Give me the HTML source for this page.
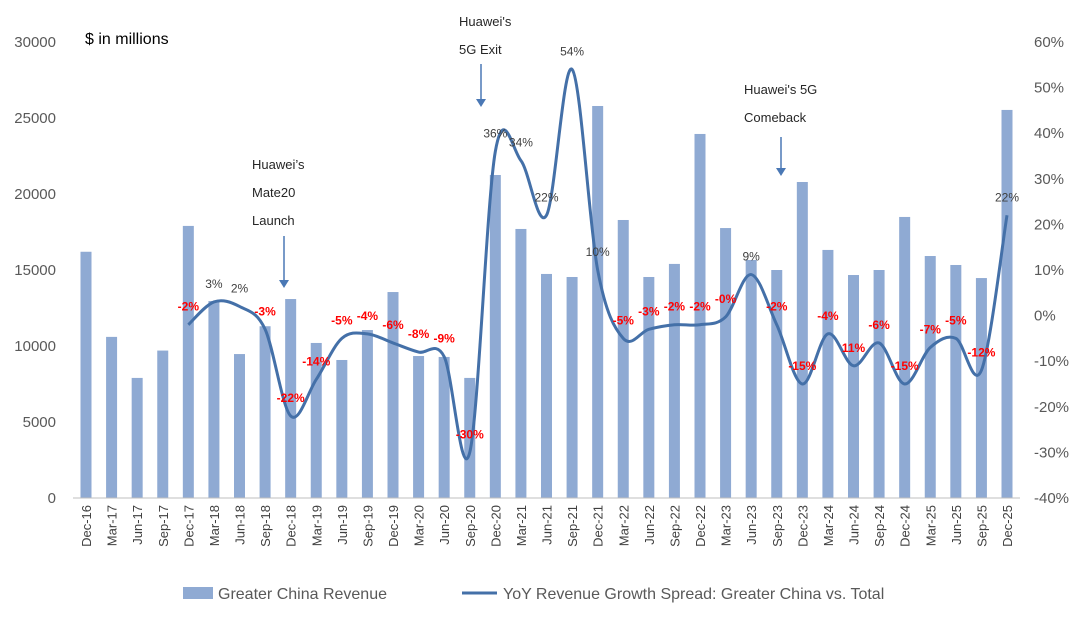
<!DOCTYPE html>
<html><head><meta charset="utf-8"><style>
body{margin:0;background:#fff;}
svg text{font-family:"Liberation Sans",sans-serif;}
</style></head><body>
<svg id="chart" width="1080" height="613" viewBox="0 0 1080 613"></svg>
<script>
const categories=["Dec-16","Mar-17","Jun-17","Sep-17","Dec-17","Mar-18","Jun-18","Sep-18","Dec-18","Mar-19","Jun-19","Sep-19","Dec-19","Mar-20","Jun-20","Sep-20","Dec-20","Mar-21","Jun-21","Sep-21","Dec-21","Mar-22","Jun-22","Sep-22","Dec-22","Mar-23","Jun-23","Sep-23","Dec-23","Mar-24","Jun-24","Sep-24","Dec-24","Mar-25","Jun-25","Sep-25","Dec-25"];
const revenue=[16200,10600,7900,9700,17900,12960,9470,11300,13090,10200,9080,11050,13550,9340,9280,7900,21250,17700,14740,14540,25790,18290,14540,15400,23950,17760,15660,15000,20790,16320,14670,15000,18490,15920,15330,14470,25530];
const spread=[-2,3,2,-3,-22,-14,-5,-4,-6,-8,-9,-30,36,34,22,54,10,-5,-3,-2,-2,-0.3,9,-2,-15,-4,-11,-6,-15,-7,-5,-12,22];
const spreadLabels=["-2%","3%","2%","-3%","-22%","-14%","-5%","-4%","-6%","-8%","-9%","-30%","36%","34%","22%","54%","10%","-5%","-3%","-2%","-2%","-0%","9%","-2%","-15%","-4%","11%","-6%","-15%","-7%","-5%","-12%","22%"];
const leftTicks=[0,5000,10000,15000,20000,25000,30000];
const rightTicks=[-40,-30,-20,-10,0,10,20,30,40,50,60];
const spreadStart=4;

const svg=document.getElementById('chart');
const NS='http://www.w3.org/2000/svg';
function mk(tag,attrs,parent){const e=document.createElementNS(NS,tag);for(const k in attrs)e.setAttribute(k,attrs[k]);(parent||svg).appendChild(e);return e;}
const x0=86,dx=(1007-86)/36,yTop=42,yBot=498;
const xs=i=>x0+i*dx;
const yL=v=>yBot-(v/30000)*(yBot-yTop);
const yR=v=>yBot-((v+40)/100)*(yBot-yTop);

leftTicks.forEach(t=>{const e=mk('text',{x:56,y:yL(t)+5,'text-anchor':'end','font-size':15,fill:'#595959'});e.textContent=t;

});
rightTicks.forEach(t=>{const e=mk('text',{x:1034,y:yR(t)+5,'font-size':15,fill:'#595959'});e.textContent=t+'%';

});

revenue.forEach((v,i)=>{const r=mk('rect',{x:xs(i)-5.5,y:yL(v),width:11,height:yBot-yL(v),fill:'#8faad3'});

});
const ax=mk('line',{x1:73,x2:1020,y1:yBot,y2:yBot,stroke:'#bfbfbf','stroke-width':1});


categories.forEach((c,i)=>{const t=mk('text',{transform:`translate(${xs(i)+5},505) rotate(-90)`,'text-anchor':'end','font-size':13,fill:'#404040'});t.textContent=c;

});

const pts=spread.map((v,j)=>[xs(j+spreadStart),yR(v)]);
let d='M'+pts[0][0]+','+pts[0][1];
for(let i=0;i<pts.length-1;i++){const p0=pts[Math.max(i-1,0)],p1=pts[i],p2=pts[i+1],p3=pts[Math.min(i+2,pts.length-1)];
const c1=[p1[0]+(p2[0]-p0[0])/6,p1[1]+(p2[1]-p0[1])/6],c2=[p2[0]-(p3[0]-p1[0])/6,p2[1]-(p3[1]-p1[1])/6];
d+=` C${c1[0]},${c1[1]} ${c2[0]},${c2[1]} ${p2[0]},${p2[1]}`;}
const ln=mk('path',{d:d,fill:'none',stroke:'#4470a8','stroke-width':3});



spreadLabels.forEach((s,j)=>{const neg=s.startsWith('-')||s==='11%';
const t=mk('text',{x:pts[j][0],y:pts[j][1]-14,'text-anchor':'middle','font-size':12,fill:neg?'#ff0000':'#404040','font-weight':neg?'bold':'normal'});t.textContent=s;

});

function note(lines,x,y,ax,ay1,ay2,name){const g=mk('g',{});
lines.forEach((l,k)=>{const t=mk('text',{x:x,y:y+k*28,'font-size':13,fill:'#262626'},g);t.textContent=l;});
mk('line',{x1:ax,x2:ax,y1:ay1,y2:ay2-6,stroke:'#4a78b5','stroke-width':1.5},g);
mk('path',{d:`M${ax-5},${ay2-8} L${ax+5},${ay2-8} L${ax},${ay2} Z`,fill:'#4a78b5'},g);}
note(["Huawei’s","Mate20","Launch"],252,169,284,236,288,'mate20-annotation');
note(["Huawei's","5G Exit"],459,26,481,64,107,'5g-exit-annotation');
note(["Huawei's 5G","Comeback"],744,94,781,137,176,'5g-comeback-annotation');

const u=mk('text',{x:85,y:44,'font-size':16,fill:'#000'});u.textContent='$ in millions';



const lg=mk('g',{});
mk('rect',{x:183,y:587,width:30,height:12,fill:'#8faad3'},lg);
let t1=mk('text',{x:218,y:599,'font-size':16,fill:'#595959'},lg);t1.textContent='Greater China Revenue';
mk('line',{x1:462,x2:497,y1:593,y2:593,stroke:'#4470a8','stroke-width':3},lg);
let t2=mk('text',{x:503,y:599,'font-size':16,fill:'#595959'},lg);t2.textContent='YoY Revenue Growth Spread: Greater China vs. Total';
</script>
</body></html>
